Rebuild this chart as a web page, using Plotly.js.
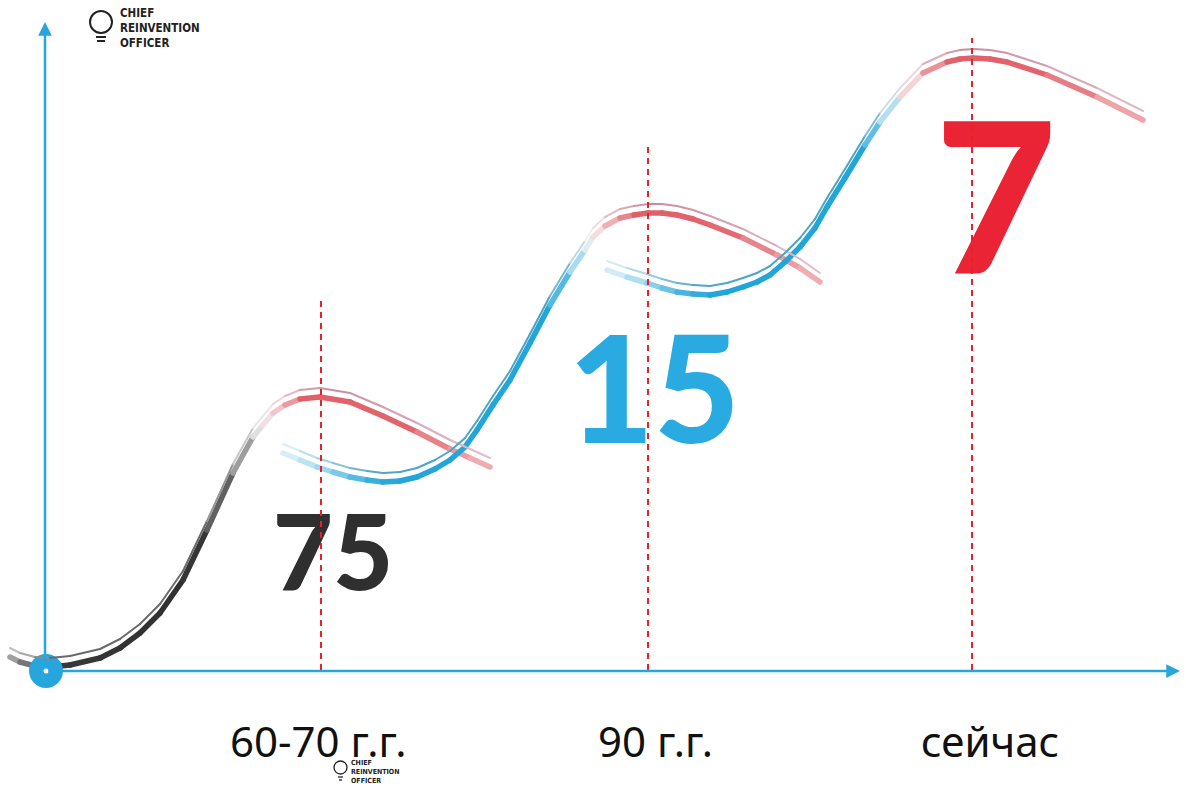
<!DOCTYPE html>
<html><head><meta charset="utf-8">
<script src="https://cdn.plot.ly/plotly-3.0.1.min.js"></script>
<style>html,body{margin:0;padding:0;background:#fff;}#chart{width:1186px;height:786px;}
#chart path.js-line{stroke-linecap:round;stroke-linejoin:round;}</style>
</head><body><div id="chart"></div>
<script>
// ---- DATA (level units: 0 = time axis) ----
const eraX = [321, 648, 972];
const eraLabels = ['60-70 г.г.', '90 г.г.', 'сейчас'];
const eraPeak = [370, 525, 632];
const eraValues = ['75', '15', '7'];

const curve1X = [10,20,35,50,70,100,120,140,160,183,207,233,253,263,273,285,300,320,350,383,417,450,470,490];
const curve1Y = [13,8,4,3,5,12,22,37,57,90,140,197,233,245,257,265,271,273,268,254,238,221,212,203];

const curve2X = [283,300,317,333,350,367,383,400,417,435,450,465,477,493,510,530,550,570,585,593,605,620,634,648,662,677,693,710,743,777,800,820];
const curve2Y = [217,210,203,198,193,190,188,189,193,201,210,223,240,265,290,327,365,398,420,433,444,452,455,457,457,455,451,445,432,415,402,388];

const curve3X = [607,627,647,662,677,693,710,727,743,757,770,785,800,815,827,845,865,880,900,923,947,960,973,990,1007,1047,1097,1143];
const curve3Y = [400,393,387,382,378,376,375,378,383,388,395,408,423,442,463,492,525,548,573,597,608,611,612,611,608,595,573,550];

// ---- STYLES ----
const BLUE = '#27a6de';
const RED = '#e8202a';
const thickStops = [
  [[10,'#b0b0b0'],[45,'#3a3a3a'],[190,'#2e2e2e'],[235,'#7a7a7a'],[262,'#f0f0f0'],[280,'#f2c4c8'],[310,'#e0606a'],[400,'#e2646d'],[490,'#f0b5b9']],
  [[283,'#e2f3fa'],[320,'#a8dcf0'],[370,'#3fb0de'],[400,'#22a5d8'],[550,'#22a5d8'],[578,'#a8dcf0'],[593,'#f7f3f4'],[608,'#f2bcc0'],[640,'#e0606a'],[720,'#e2646d'],[820,'#f0b5b9']],
  [[607,'#e2f3fa'],[640,'#a8dcf0'],[690,'#3fb0de'],[720,'#22a5d8'],[860,'#22a5d8'],[888,'#a8dcf0'],[903,'#f7f3f4'],[918,'#f2bcc0'],[955,'#e0606a'],[1040,'#e2646d'],[1143,'#f0b5b9']]
];
const thinStops = [
  [[10,'#c8c8c8'],[60,'#6a6a6a'],[200,'#6a6a6a'],[262,'#f0f0f0'],[285,'#ecc7d0'],[320,'#c98a9c'],[490,'#e3c0c9']],
  [[283,'#e5f3f8'],[380,'#4ea6c4'],[550,'#4ea6c4'],[590,'#f2f2f2'],[615,'#e5b8c4'],[650,'#c98a9c'],[820,'#e3c0c9']],
  [[607,'#e5f3f8'],[700,'#4ea6c4'],[860,'#4ea6c4'],[900,'#f2f2f2'],[925,'#e5b8c4'],[970,'#c98a9c'],[1143,'#e3c0c9']]
];

function hex2rgb(h){return [parseInt(h.substr(1,2),16),parseInt(h.substr(3,2),16),parseInt(h.substr(5,2),16)];}
function colorAt(stops, x){
  if (x <= stops[0][0]) return stops[0][1];
  for (let i=0;i<stops.length-1;i++){
    const a=stops[i], b=stops[i+1];
    if (x>=a[0] && x<=b[0]){
      const t=(x-a[0])/(b[0]-a[0]); const ca=hex2rgb(a[1]), cb=hex2rgb(b[1]);
      return 'rgb('+ca.map((v,k)=>Math.round(v+(cb[k]-v)*t)).join(',')+')';
    }
  }
  return stops[stops.length-1][1];
}

const traces = [];
const curves = [[curve1X,curve1Y],[curve2X,curve2Y],[curve3X,curve3Y]];
curves.forEach((c,ci)=>{
  const xs=c[0], ys=c[1];
  for (let i=0;i<xs.length-1;i++){
    const mid=(xs[i]+xs[i+1])/2;
    traces.push({x:[xs[i],xs[i+1]], y:[ys[i],ys[i+1]], mode:'lines', yaxis:'y2',
      line:{color:colorAt(thinStops[ci],mid), width:2}, hoverinfo:'skip', showlegend:false});
  }
  for (let i=0;i<xs.length-1;i++){
    const mid=(xs[i]+xs[i+1])/2;
    traces.push({x:[xs[i],xs[i+1]], y:[ys[i],ys[i+1]], mode:'lines',
      line:{color:colorAt(thickStops[ci],mid), width:5.5}, hoverinfo:'skip', showlegend:false});
  }
});

// big numbers
const numStyle = [
  {x:333, y:106, color:'#2f2f2f', size:104},
  {x:654, y:264, color:'#29aae1', size:148},
  {x:996, y:449, color:'#ea2435', size:210}
];
eraValues.forEach((v,i)=>{
  traces.push({x:[numStyle[i].x], y:[numStyle[i].y], mode:'text', text:[v], textposition:'middle center',
    textfont:{family:'Lato, Roboto, sans-serif', size:numStyle[i].size, color:numStyle[i].color, weight:900},
    hoverinfo:'skip', showlegend:false, cliponaxis:false});
});

// origin dot
traces.push({x:[46], y:[-1], mode:'markers', marker:{size:34, color:BLUE}, hoverinfo:'skip', showlegend:false, cliponaxis:false});
traces.push({x:[46], y:[-1], mode:'markers', marker:{size:5, color:'#ffffff'}, hoverinfo:'skip', showlegend:false, cliponaxis:false});

const labelShift = [-3, 7, 18];
const annotations = eraLabels.map((t,i)=>({x:eraX[i], y:-70, xref:'x', yref:'y', text:t, showarrow:false,
  xshift:labelShift[i], font:{family:'"Noto Sans", "Open Sans", sans-serif', size:42, color:'#111'}}));

// axes with arrows
annotations.push({x:45, y:648, ax:45, ay:2, xref:'x', yref:'y', axref:'x', ayref:'y', text:'', showarrow:true,
  arrowhead:2, arrowsize:1.1, arrowwidth:2.5, arrowcolor:BLUE});
annotations.push({x:1180, y:-1, ax:47, ay:-1, xref:'x', yref:'y', axref:'x', ayref:'y', text:'', showarrow:true,
  arrowhead:2, arrowsize:1.1, arrowwidth:2.5, arrowcolor:BLUE});

// logos
const logoFont = {family:'"Liberation Sans Narrow", "DejaVu Sans Condensed", sans-serif', color:'#222', weight:700};
annotations.push({x:118, y:642, xref:'x', yref:'y', text:'<b>CHIEF<br>REINVENTION<br>OFFICER</b>', showarrow:false,
  xanchor:'left', yanchor:'middle', align:'left', font:Object.assign({size:11.5}, logoFont)});
annotations.push({x:350, y:-116, xref:'x', yref:'y', text:'<b>CHIEF<br>REINVENTION<br>OFFICER</b>', showarrow:false,
  xanchor:'left', yanchor:'bottom', align:'left', borderpad:0, font:Object.assign({size:7}, logoFont)});

// dashed era lines (drawn above numbers and curves)
const shapes = eraX.map((x,i)=>({type:'line', xref:'x', yref:'y', x0:x, x1:x, y0:0, y1:eraPeak[i], layer:'above',
  line:{color:RED, width:2, dash:'6px,5px'}}));
shapes.push(
  {type:'circle', xref:'x', yref:'y', x0:90, x1:112, y0:637, y1:659, line:{color:'#222', width:2}},
  {type:'line', xref:'x', yref:'y', x0:96, x1:106, y0:633, y1:633, line:{color:'#222', width:2}},
  {type:'line', xref:'x', yref:'y', x0:97, x1:105, y0:629, y1:629, line:{color:'#222', width:2}},
  {type:'circle', xref:'x', yref:'y', x0:334, x1:347, y0:-104, y1:-91, line:{color:'#222', width:1.3}},
  {type:'line', xref:'x', yref:'y', x0:338, x1:343, y0:-107, y1:-107, line:{color:'#222', width:1.3}},
  {type:'line', xref:'x', yref:'y', x0:339, x1:342, y0:-110, y1:-110, line:{color:'#222', width:1.3}}
);

const layout = {
  width:1186, height:786, margin:{l:0,r:0,t:0,b:0}, paper_bgcolor:'#fff', plot_bgcolor:'#fff',
  xaxis:{range:[0,1186], visible:false, fixedrange:true},
  yaxis:{range:[-116,670], visible:false, fixedrange:true},
  yaxis2:{range:[-125,661], visible:false, overlaying:'y', fixedrange:true},
  annotations:annotations, shapes:shapes, showlegend:false
};
Plotly.newPlot('chart', traces, layout, {displayModeBar:false, staticPlot:true});
</script></body></html>
